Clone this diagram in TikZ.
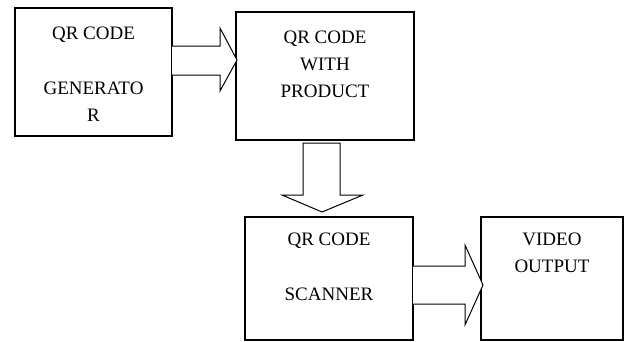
\documentclass[tikz,border=0pt]{standalone}
\usepackage{fontspec}
\setmainfont{Liberation Serif}
\usetikzlibrary{positioning,calc}
\begin{document}
\begin{tikzpicture}[x=1pt,y=-1pt,line join=miter,
		box/.style={draw,rectangle,line width=1.4pt,inner sep=0pt,outer sep=0pt,anchor=north west},
		lbl/.style={align=center,inner sep=0pt,font=\fontsize{19}{27}\selectfont},
		blockarrow/.style={draw,line width=1pt,fill=white}]
	\useasboundingbox (0,0) rectangle (625,341);
	\node[box,minimum width=157pt,minimum height=128pt] (gen) at (15,8) {};
	\node[box,minimum width=178pt,minimum height=128pt] (prod) at (236,12) {};
	\node[box,minimum width=168pt,minimum height=123pt] (scan) at (245,217) {};
	\node[box,minimum width=142pt,minimum height=123pt] (video) at (481,217) {};
	\node[lbl,below=19pt of gen.north] (genlbl) {QR CODE\\[28pt]GENERATO\\R};
	\node[lbl,below=19pt of prod.north] (prodlbl) {QR CODE\\WITH\\PRODUCT};
	\node[lbl,below=16pt of scan.north] (scanlbl) {QR CODE\\[28pt]SCANNER};
	\node[lbl,below=16pt of video.north] (videolbl) {VIDEO\\OUTPUT};
	\draw[blockarrow] ($(gen.north east)+(0,38)$) -- ++(48,0) -- ++(0,-18) -- ++(17,32) -- ++(-17,31) -- ++(0,-16) -- ++(-48,0);
	\draw[blockarrow] ($(prod.south)+(-22,3)$) -- ++(0,52) -- ++(-21,0) -- ++(40,17) -- ++(41,-17) -- ++(-23,0) -- ++(0,-52) -- cycle;
	\draw[blockarrow] ($(scan.north east)+(0,49)$) -- ++(52,0) -- ++(0,-21) -- ++(18,40) -- ++(-18,40) -- ++(0,-21) -- ++(-52,0);
\end{tikzpicture}
\end{document}
